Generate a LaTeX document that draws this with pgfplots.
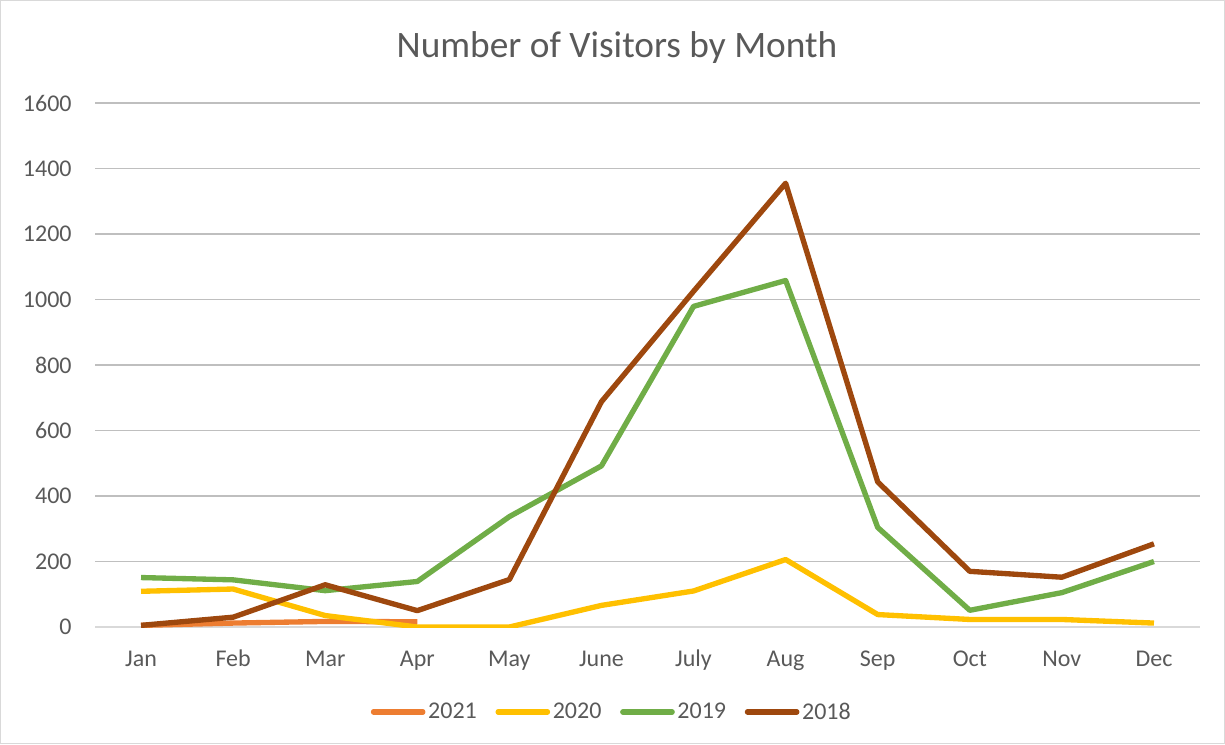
\documentclass[border=0pt]{standalone}
\usepackage{fontspec}
\setmainfont{Carlito}
\usepackage{pgfplots}
\pgfplotsset{compat=1.18}
\definecolor{c21}{HTML}{ED7D31}
\definecolor{c20}{HTML}{FFC000}
\definecolor{c19}{HTML}{70AD47}
\definecolor{c18}{HTML}{9E480E}
\definecolor{txt}{HTML}{595959}
\definecolor{grid}{HTML}{D9D9D9}
\begin{document}
\begin{tikzpicture}
\draw[grid, line width=0.75pt] (0.375pt,0.375pt) rectangle (918.375pt,557.625pt);
\path[use as bounding box] (0pt,0pt) rectangle (918.75pt,558pt);
\node[txt, font=\fontsize{28}{32}\selectfont] at (462.75pt,522pt) {Number of Visitors by Month};
\begin{axis}[
  at={(71.25pt,87.75pt)}, anchor=south west,
  scale only axis, width=828.75pt, height=393pt,
  xmin=-0.5, xmax=11.5, ymin=0, ymax=1600,
  xtick={0,...,11},
  xticklabels={Jan,Feb,Mar,Apr,May,June,July,Aug,Sep,Oct,Nov,Dec},
  ytick={0,200,...,1600},
  ymajorgrids, xmajorgrids=false, grid style={grid, line width=1.1pt},
  axis x line*=bottom, axis y line*=left,
  x axis line style={draw=grid, line width=1.1pt, -},
  y axis line style={draw=none},
  major tick length=0pt,
  tick label style={txt, font=\fontsize{18}{20}\selectfont},
  /pgf/number format/assume math mode=true,
  /pgf/number format/1000 sep={},
  xticklabel style={yshift=-13pt, text height=13pt, text depth=4pt},
  yticklabel style={xshift=-14pt},
  legend columns=4,
  legend style={at={(0.468,-0.162)}, anchor=center, draw=none, fill=none,
    font=\fontsize{18}{20}\selectfont, text=txt,
    /tikz/every odd column/.append style={column sep=0pt},
    /tikz/every even column/.append style={column sep=12pt}},
  legend image code/.code={\draw[#1, line cap=round] (0pt,0pt) -- (37pt,0pt);},
  every axis plot/.append style={line width=4pt, line join=round, mark=none},
]
\addplot[c21] coordinates {(0,5) (1,12) (2,17) (3,16)};
\addplot[c20] coordinates {(0,109) (1,116) (2,35) (3,0) (4,0) (5,66) (6,110) (7,206) (8,38) (9,23) (10,23) (11,12)};
\addplot[c19] coordinates {(0,151) (1,144) (2,111) (3,139) (4,337) (5,492) (6,979) (7,1058) (8,304) (9,51) (10,105) (11,200)};
\addplot[c18] coordinates {(0,5) (1,30) (2,129) (3,50) (4,145) (5,688) (6,1025) (7,1355) (8,443) (9,170) (10,152) (11,254)};
\legend{2021,2020,2019,2018}
\end{axis}
\end{tikzpicture}
\end{document}
